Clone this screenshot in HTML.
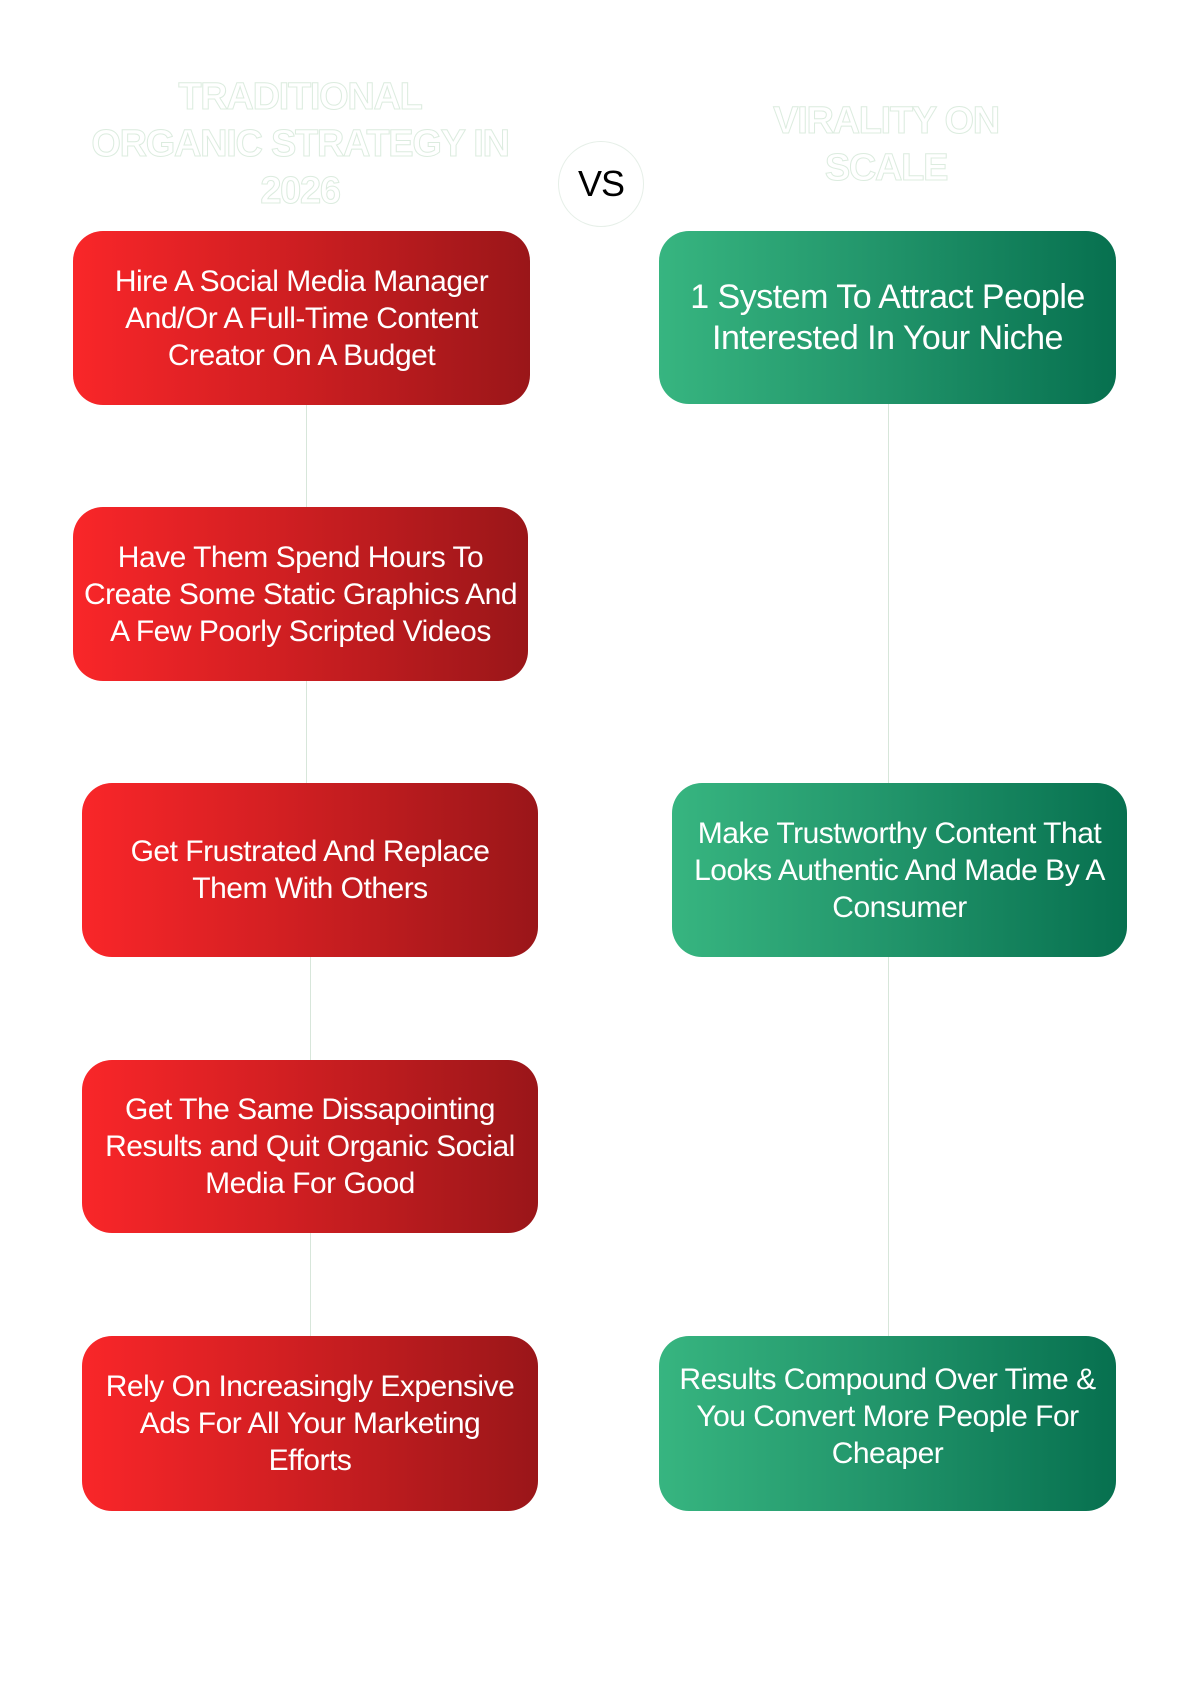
<!DOCTYPE html>
<html><head><meta charset="utf-8"><style>
*{margin:0;padding:0;box-sizing:border-box}
body{width:1200px;height:1682px;background:#fff;position:relative;overflow:hidden;font-family:"Liberation Sans",sans-serif}
.h{position:absolute;text-align:center;font-weight:bold;font-size:38px;line-height:47px;color:#fff;-webkit-text-stroke:1px #dcecdf;letter-spacing:-1.3px;white-space:nowrap}
.b{position:absolute;border-radius:30px;display:flex;align-items:center;justify-content:center;text-align:center;color:#fff;font-size:30px;line-height:37px;letter-spacing:-0.5px;padding:0 4px;white-space:nowrap}
.r{background:linear-gradient(90deg,#f92629 0%,#d11f22 45%,#9a1619 100%)}
.g{background:linear-gradient(90deg,#37b580 0%,#23976c 45%,#07704f 100%)}
.l{position:absolute;width:1px;background:#d7e6da}
.vs{position:absolute;left:558px;top:141px;width:86px;height:86px;border-radius:50%;border:1px solid #e6efe8;display:flex;align-items:center;justify-content:center;font-size:36px;color:#000;letter-spacing:-1px}
</style></head><body>
<div class="h" style="left:50px;width:500px;top:74px">TRADITIONAL<br>ORGANIC STRATEGY IN<br>2026</div>
<div class="h" style="left:636px;width:500px;top:98px">VIRALITY ON<br>SCALE</div>
<div class="vs">VS</div>

<div class="l" style="left:306px;top:405px;height:102px"></div>
<div class="l" style="left:306px;top:681px;height:102px"></div>
<div class="l" style="left:310px;top:957px;height:103px"></div>
<div class="l" style="left:310px;top:1233px;height:103px"></div>
<div class="l" style="left:888px;top:404px;height:379px"></div>
<div class="l" style="left:888px;top:957px;height:379px"></div>

<div class="b r" style="left:73px;top:231px;width:457px;height:174px">Hire A Social Media Manager<br>And/Or A Full-Time Content<br>Creator On A Budget</div>
<div class="b r" style="left:73px;top:507px;width:455px;height:174px">Have Them Spend Hours To<br>Create Some Static Graphics And<br>A Few Poorly Scripted Videos</div>
<div class="b r" style="left:82px;top:783px;width:456px;height:174px">Get Frustrated And Replace<br>Them With Others</div>
<div class="b r" style="left:82px;top:1060px;width:456px;height:173px">Get The Same Dissapointing<br>Results and Quit Organic Social<br>Media For Good</div>
<div class="b r" style="left:82px;top:1336px;width:456px;height:175px">Rely On Increasingly Expensive<br>Ads For All Your Marketing<br>Efforts</div>

<div class="b g" style="left:659px;top:231px;width:457px;height:173px;font-size:34px;line-height:41px">1 System To Attract People<br>Interested In Your Niche</div>
<div class="b g" style="left:672px;top:783px;width:455px;height:174px">Make Trustworthy Content That<br>Looks Authentic And Made By A<br>Consumer</div>
<div class="b g" style="left:659px;top:1336px;width:457px;height:175px;padding-bottom:14px">Results Compound Over Time &amp;<br>You Convert More People For<br>Cheaper</div>
</body></html>
